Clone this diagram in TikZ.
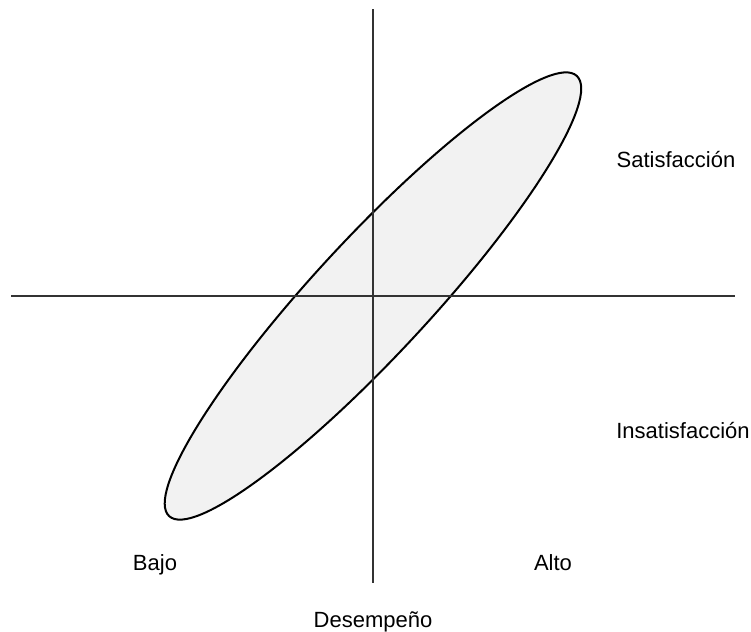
\documentclass[tikz,border=0pt]{standalone}
\usepackage{fontspec}
\setmainfont{Liberation Sans}
\definecolor{Axis}{HTML}{333333}
\definecolor{Blob}{HTML}{F2F2F2}
\tikzset{
  axisline/.style={draw=Axis,line width=.65pt},
  blob/.style={draw=black,fill=Blob,line width=1pt},
  lbl/.style={font=\fontsize{11}{13}\selectfont,text=black,inner sep=0pt,anchor=base}
}
\begin{document}
\begin{tikzpicture}[x=.5pt,y=-.5pt]
    \useasboundingbox (0,0) rectangle (751,632);
    % axes
    \coordinate (left) at (11,296);
    \coordinate (right) at (735,296);
    \coordinate (top) at (373,9);
    \coordinate (bottom) at (373,583);
    \coordinate (centre) at (373,296);
    \draw[blob,rotate around={47.2:(centre)}] (centre) ellipse [x radius=150pt,y radius=29pt];
    \draw[axisline] (left) -- (right);
    \draw[axisline] (top) -- (bottom);
    % labels
    \node[lbl] (sat) at (676,167) {Satisfacción};
    \node[lbl] (insat) at (683,438) {Insatisfacción};
    \node[lbl] (low) at (155,570) {Bajo};
    \node[lbl] (high) at (553,570) {Alto};
    \node[lbl] (perf) at (373,627) {Desempeño};
\end{tikzpicture}
\end{document}
